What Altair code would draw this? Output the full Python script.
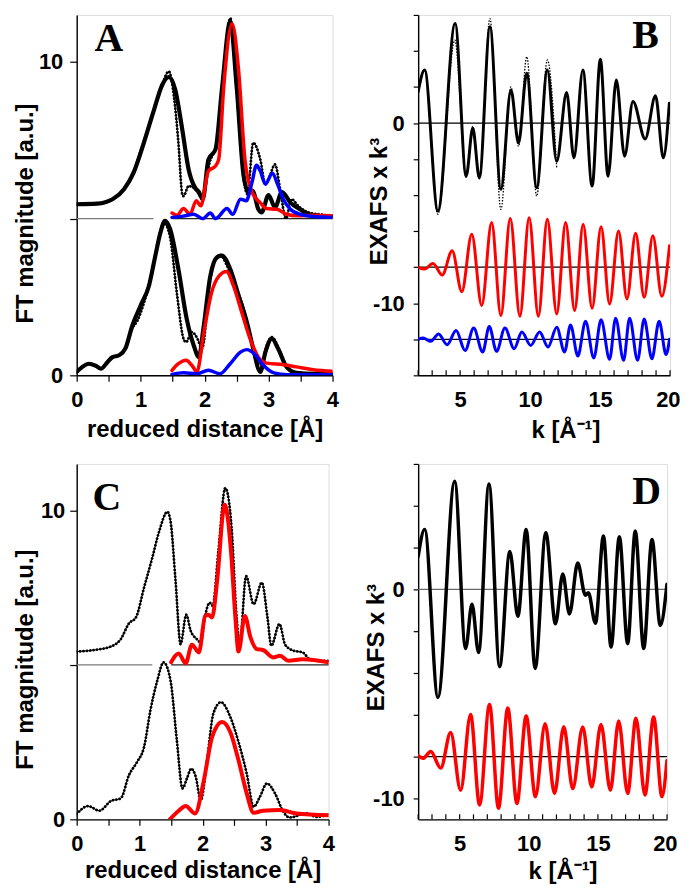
import altair as alt
import pandas as pd

# ---------------- Panel A : FT magnitude vs reduced distance ----------------
A_top_fit_r = [0, 0.32, 0.56, 0.74, 0.89, 1.05, 1.21, 1.34, 1.44, 1.54, 1.65, 1.75, 1.85, 1.91, 1.97, 2.06, 2.17, 2.27, 2.40, 2.50, 2.61, 2.69, 2.75, 2.84, 2.89, 3.00, 3.10, 3.21, 3.34, 3.49, 3.70, 4.00]
A_top_fit_v = [5.46, 5.48, 5.62, 5.94, 6.47, 7.42, 8.48, 9.28, 9.52, 9.12, 7.85, 6.57, 5.99, 5.85, 5.62, 6.89, 7.21, 9.12, 11.29, 9.23, 6.36, 5.83, 5.89, 5.30, 5.20, 5.75, 5.36, 5.85, 5.51, 5.30, 5.09, 5.07]
A_top_dat_r = [0, 0.32, 0.56, 0.74, 0.89, 1.05, 1.21, 1.34, 1.44, 1.52, 1.59, 1.65, 1.67, 1.75, 1.83, 1.91, 1.96, 2.08, 2.19, 2.29, 2.40, 2.50, 2.61, 2.67, 2.76, 2.87, 2.95, 3.02, 3.10, 3.18, 3.27, 3.36, 3.46, 3.62, 3.78, 4.0]
A_top_dat_v = [5.46, 5.48, 5.62, 5.96, 6.52, 7.47, 8.50, 9.30, 9.70, 8.90, 7.42, 5.78, 5.72, 6.04, 5.98, 5.78, 5.62, 6.80, 7.42, 9.20, 11.40, 9.12, 6.26, 5.78, 7.42, 6.89, 6.10, 6.37, 6.73, 5.95, 5.00, 5.62, 5.41, 5.20, 5.14, 5.09]
A_top_red_r = [1.49, 1.57, 1.67, 1.77, 1.87, 1.94, 2.06, 2.17, 2.22, 2.30, 2.43, 2.53, 2.63, 2.74, 2.87, 2.97, 3.13, 3.28, 3.44, 3.70, 4.0]
A_top_red_v = [5.18, 5.11, 5.32, 5.14, 5.57, 5.41, 6.52, 6.68, 6.89, 9.23, 11.22, 9.76, 6.89, 5.85, 5.51, 5.32, 5.30, 5.14, 5.09, 5.11, 5.09]
A_top_blu_r = [1.49, 1.67, 1.83, 1.97, 2.09, 2.17, 2.35, 2.44, 2.56, 2.65, 2.74, 2.81, 2.87, 2.95, 3.06, 3.14, 3.23, 3.34, 3.49, 3.75, 4.0]
A_top_blu_v = [5.04, 5.08, 5.14, 5.00, 5.18, 5.00, 5.32, 5.14, 5.62, 5.57, 6.15, 6.70, 6.52, 6.10, 6.45, 6.10, 5.62, 5.30, 5.14, 5.06, 5.04]

A_bot_fit_r = [0, 0.09, 0.19, 0.30, 0.38, 0.48, 0.56, 0.66, 0.76, 0.87, 1.0, 1.13, 1.23, 1.31, 1.38, 1.46, 1.59, 1.72, 1.83, 1.91, 1.98, 2.09, 2.19, 2.27, 2.40, 2.53, 2.66, 2.76, 2.87, 2.95, 3.05, 3.15, 3.28, 3.44, 3.70, 4.0]
A_bot_fit_v = [0.11, 0.27, 0.37, 0.30, 0.21, 0.42, 0.58, 0.64, 0.85, 1.59, 2.23, 2.86, 3.82, 4.56, 4.93, 4.67, 3.39, 1.80, 0.95, 0.58, 1.48, 3.18, 3.76, 3.82, 3.39, 2.55, 1.70, 0.85, 0.11, 0.74, 1.17, 0.85, 0.27, 0.08, 0.05, 0.05]
A_bot_dat_r = [0, 0.09, 0.19, 0.30, 0.38, 0.48, 0.56, 0.66, 0.76, 0.87, 0.95, 1.05, 1.13, 1.23, 1.31, 1.36, 1.46, 1.57, 1.67, 1.71, 1.80, 1.88, 1.96, 2.09, 2.24, 2.35, 2.48, 2.61, 2.71, 2.82, 2.89, 2.97, 3.05, 3.18, 3.31, 3.55, 4.0]
A_bot_dat_v = [0.11, 0.27, 0.37, 0.30, 0.21, 0.42, 0.58, 0.64, 0.85, 1.50, 1.75, 2.30, 2.90, 3.85, 4.60, 4.88, 4.40, 2.55, 1.17, 1.06, 1.38, 1.20, 0.85, 3.08, 3.85, 3.50, 2.86, 2.12, 1.27, 0.42, 0.35, 0.95, 1.22, 0.75, 0.20, 0.05, 0.03]
A_bot_red_r = [1.49, 1.59, 1.71, 1.80, 1.88, 1.98, 2.11, 2.23, 2.34, 2.45, 2.58, 2.71, 2.84, 2.97, 3.23, 3.44, 3.70, 4.0]
A_bot_red_v = [0.16, 0.37, 0.48, 0.32, 0.11, 1.27, 2.65, 3.18, 3.31, 2.86, 2.01, 1.17, 0.58, 0.39, 0.34, 0.27, 0.18, 0.13]
A_bot_blu_r = [1.49, 1.67, 1.87, 2.06, 2.24, 2.40, 2.56, 2.66, 2.79, 2.92, 3.08, 3.30, 4.0]
A_bot_blu_v = [0.03, 0.08, 0.05, 0.16, 0.05, 0.37, 0.74, 0.82, 0.66, 0.32, 0.08, 0.02, 0.02]

# ---------------- Panel B : EXAFS x k^3 vs k ----------------
B_fit_k = [2.0, 2.46, 3.41, 4.64, 5.43, 5.90, 6.37, 7.13, 7.91, 8.63, 9.17, 9.76, 10.47, 11.23, 11.90, 12.61, 13.13, 13.77, 14.43, 15.02, 15.57, 16.16, 16.75, 17.35, 18.22, 18.96, 19.52, 19.95]
B_fit_v = [1.75, 2.95, -4.88, 5.52, -2.95, -0.28, -3.04, 5.34, -3.68, 1.84, -1.10, 2.76, -3.59, 2.95, -2.12, 1.69, -1.93, 2.95, -3.50, 3.54, -2.95, 2.39, -1.84, 1.20, -0.88, 1.51, -1.93, 1.10]
B_dat_k = [2.0, 2.46, 3.41, 4.62, 5.43, 5.90, 6.37, 7.13, 7.91, 8.63, 9.17, 9.76, 10.47, 11.23, 11.90]
B_dat_v = [1.75, 2.95, -5.06, 4.60, -3.00, -0.18, -3.10, 5.80, -4.79, 2.00, -1.29, 3.68, -4.05, 3.50, -2.49]
B_red_k = [2.0, 2.46, 3.06, 3.72, 4.43, 5.12, 5.83, 6.54, 7.25, 7.91, 8.58, 9.27, 9.93, 10.59, 11.23, 11.90, 12.54, 13.18, 13.79, 14.43, 15.07, 15.68, 16.32, 16.92, 17.54, 18.15, 18.77, 19.41, 19.96]
B_red_v = [-8.01, -8.10, -7.79, -8.43, -7.09, -9.36, -6.17, -10.13, -5.52, -10.68, -5.29, -10.72, -5.25, -10.72, -5.34, -10.59, -5.52, -10.41, -5.62, -10.28, -5.75, -10.04, -5.99, -9.76, -6.11, -9.67, -6.26, -9.61, -6.81]
B_blu_k = [2.0, 2.35, 2.90, 3.46, 4.07, 4.71, 5.35, 5.97, 6.61, 7.08, 7.60, 8.20, 8.86, 9.41, 10.04, 10.68, 11.28, 11.90, 12.46, 12.89, 13.41, 13.96, 14.55, 15.07, 15.68, 16.11, 16.68, 17.11, 17.68, 18.15, 18.70, 19.22, 19.72, 19.96]
B_blu_v = [-12.0, -11.93, -12.11, -11.71, -12.30, -11.51, -12.62, -11.38, -12.71, -11.29, -12.67, -11.38, -12.52, -11.60, -12.34, -11.60, -12.43, -11.33, -12.71, -11.20, -12.93, -11.00, -13.04, -10.92, -13.11, -10.83, -13.17, -10.83, -13.17, -10.87, -13.08, -11.00, -12.85, -12.0]

# ---------------- Panel C ----------------
C_top_dat_r = [0, 0.28, 0.54, 0.70, 0.83, 0.94, 1.07, 1.20, 1.31, 1.44, 1.49, 1.57, 1.65, 1.74, 1.81, 1.91, 1.97, 2.04, 2.11, 2.16, 2.25, 2.36, 2.46, 2.54, 2.59, 2.69, 2.81, 2.94, 3.03, 3.09, 3.22, 3.31, 3.44, 3.59, 3.70, 3.81, 4.0]
C_top_dat_v = [5.43, 5.48, 5.59, 5.83, 6.34, 6.53, 7.50, 8.46, 9.32, 9.95, 9.65, 7.71, 5.67, 6.62, 6.10, 5.83, 5.72, 6.58, 7.01, 6.91, 8.68, 10.72, 9.43, 6.53, 5.67, 7.87, 6.96, 7.66, 6.53, 5.62, 6.32, 5.65, 5.46, 5.40, 5.18, 5.13, 5.13]
C_top_red_r = [1.50, 1.62, 1.73, 1.83, 1.94, 2.04, 2.09, 2.15, 2.23, 2.35, 2.45, 2.52, 2.57, 2.67, 2.76, 2.86, 2.96, 3.12, 3.23, 3.36, 3.59, 4.0]
C_top_red_v = [5.08, 5.37, 5.05, 5.65, 5.40, 6.58, 6.62, 6.53, 7.71, 10.18, 8.68, 6.53, 5.43, 6.58, 5.89, 5.51, 5.48, 5.24, 5.29, 5.13, 5.18, 5.08]
C_bot_dat_r = [0, 0.18, 0.36, 0.54, 0.70, 0.83, 0.96, 1.07, 1.17, 1.28, 1.38, 1.49, 1.59, 1.68, 1.75, 1.82, 1.89, 1.97, 2.07, 2.17, 2.29, 2.44, 2.57, 2.70, 2.81, 2.91, 3.02, 3.15, 3.28, 3.38, 3.65, 3.81, 4.0]
C_bot_dat_v = [0.17, 0.43, 0.28, 0.59, 0.68, 1.43, 1.86, 2.34, 3.52, 4.49, 5.08, 4.49, 2.56, 1.00, 1.32, 1.64, 1.38, 0.62, 1.91, 3.42, 3.79, 3.31, 2.50, 1.48, 0.41, 0.73, 1.16, 0.84, 0.25, 0.06, 0.19, 0.08, 0.17]
C_bot_red_r = [1.48, 1.62, 1.73, 1.88, 2.02, 2.15, 2.31, 2.44, 2.57, 2.70, 2.81, 2.96, 3.23, 3.49, 4.0]
C_bot_red_v = [0.0, 0.28, 0.43, 0.19, 1.27, 2.66, 3.15, 2.82, 1.91, 0.84, 0.21, 0.28, 0.30, 0.19, 0.13]

# ---------------- Panel D ----------------
D_fit_k = [2.0, 2.47, 3.43, 4.64, 5.43, 5.89, 6.37, 7.12, 7.89, 8.63, 9.21, 9.81, 10.46, 11.23, 11.93, 12.46, 12.94, 13.54, 14.09, 14.31, 14.82, 15.40, 15.95, 16.55, 17.15, 17.70, 18.31, 18.91, 19.51, 19.99]
D_fit_v = [1.57, 2.87, -5.17, 5.17, -2.83, -0.71, -3.02, 5.04, -3.70, 1.81, -1.29, 2.87, -3.78, 2.71, -1.65, 0.74, -1.18, 1.26, -0.28, -0.16, -1.62, 2.55, -2.76, 2.52, -2.60, 2.79, -2.83, 2.39, -1.73, 0.24]
D_red_k = [2.0, 2.36, 2.91, 3.63, 4.35, 5.07, 5.79, 6.44, 7.16, 7.81, 8.48, 9.14, 9.81, 10.48, 11.18, 11.86, 12.53, 13.18, 13.90, 14.55, 15.22, 15.90, 16.50, 17.15, 17.75, 18.40, 19.03, 19.63, 19.99]
D_red_v = [-7.95, -8.08, -7.75, -8.55, -6.85, -9.61, -5.98, -10.31, -5.51, -10.47, -5.67, -10.24, -6.06, -9.92, -6.43, -9.76, -6.57, -9.53, -6.58, -9.45, -6.46, -9.61, -6.30, -9.76, -6.17, -9.84, -6.11, -9.92, -8.19]

# tick / baseline values
ft_ticks_x = [0, 0.5, 1, 1.5, 2, 2.5, 3, 3.5, 4]
ft_ticks_y = [0, 5, 10]
k_ticks = list(range(2, 21))
B_ticks_y = list(range(-14, 7, 2))
D_ticks_y = list(range(-10, 7, 2))

FT_base_x = [0, 1.5]
FT_base_x2 = [1.2, 4]
FT_base_y = [5, 5]
FT_base_c = ["#7a7a7a", "#222222"]
B_base_y = [0, -8, -12]
D_base_y = [0, -8]
D_base_c = ["#6a6a6a", "#000000"]

SANS = "Liberation Sans"
SERIF = "Liberation Serif"


def frame(xs, ys):
    return pd.DataFrame({"x": xs, "y": ys})


def axis_common(**kw):
    base = dict(
        grid=False,
        labelFont=SANS, labelFontWeight="bold", labelFontSize=22, labelColor="black",
        titleFont=SANS, titleFontWeight="bold", titleFontSize=24, titleColor="black",
        domainColor="black", domainWidth=1.4, tickColor="black", tickWidth=1.2,
        labelAngle=0,
    )
    base.update(kw)
    return alt.Axis(**base)


def line(df, x, y, color="black", width=2, dash=None, cap="butt"):
    kw = dict(color=color, strokeWidth=width, interpolate="monotone", strokeCap=cap, clip=True)
    if dash is not None:
        kw["strokeDash"] = dash
    return alt.Chart(df).mark_line(**kw).encode(x=x, y=y)


def dotted_data(df, x, y):
    return [line(df, x, y, width=1.0),
            line(df, x, y, width=2.8, dash=[0.1, 3.3], cap="round")]


def letter(txt, px, py):
    return alt.Chart(pd.DataFrame({"t": [txt]})).mark_text(
        font=SERIF, fontWeight="bold", fontSize=40, align="left", baseline="alphabetic", color="black"
    ).encode(text="t:N", x=alt.value(px), y=alt.value(py))


def ft_panel(W, H, ytitleX, ytitleY, xtitleY, layers_fn, lab, lab_xy, ylabpad):
    x = alt.X("x:Q", scale=alt.Scale(domain=[0, 4], nice=False, zero=False),
              axis=axis_common(values=ft_ticks_x, tickSize=6, labelPadding=8, labelFlushOffset=6,
                               labelExpr="datum.value % 1 == 0 ? format(datum.value, 'd') : ''",
                               title="reduced distance [Å]", titleX=W / 2, titleY=xtitleY,
                               titleBaseline="alphabetic", titleAlign="center"))
    y = alt.Y("y:Q", scale=alt.Scale(domain=[0, 11.5], nice=False, zero=False),
              axis=axis_common(values=ft_ticks_y, tickSize=7, labelPadding=ylabpad,
                               labelExpr="datum.value == 5 ? '' : format(datum.value, 'd')",
                               title="FT magnitude [a.u.]", titleAngle=270, titleX=ytitleX, titleY=ytitleY,
                               titleBaseline="alphabetic", titleAlign="center"))
    base = pd.DataFrame({"x": FT_base_x, "x2": FT_base_x2, "y": FT_base_y, "c": FT_base_c})
    rules = alt.Chart(base).mark_rule(strokeWidth=1.2).encode(
        x=x, x2="x2:Q", y=y, color=alt.Color("c:N", scale=None))
    layers = [rules] + layers_fn(x, y) + [letter(lab, *lab_xy)]
    return alt.layer(*layers).properties(width=W, height=H)


def k_panel(W, H, ydom, yvals, base_y, base_c, ytitleX, ytitleY, xlabpad, xtitleX, xtitleY, layers_fn, lab, lab_xy):
    x = alt.X("x:Q", scale=alt.Scale(domain=[2, 20], nice=False, zero=False),
              axis=axis_common(values=[5, 10, 15, 20], ticks=False, tickSize=0, labelPadding=xlabpad,
                               labelFlushOffset=10,
                               title="k [Å⁻¹]", titleX=xtitleX, titleY=xtitleY,
                               titleBaseline="alphabetic", titleAlign="center"))
    y = alt.Y("y:Q", scale=alt.Scale(domain=ydom, nice=False, zero=False),
              axis=axis_common(values=yvals, tickSize=5, labelPadding=9,
                               labelExpr="datum.value == 0 ? '0' : (datum.value == -10 ? '-10' : '')",
                               title="EXAFS x k³", titleAngle=270, titleX=ytitleX, titleY=ytitleY,
                               titleBaseline="alphabetic", titleAlign="center"))
    base = pd.DataFrame({"y": base_y, "c": base_c})
    rules = alt.Chart(base).mark_rule(strokeWidth=1.2).encode(
        y=y, x=alt.value(0), x2=alt.value(W), color=alt.Color("c:N", scale=None))
    ticks = alt.Chart(pd.DataFrame({"x": k_ticks})).mark_rule(color="black", strokeWidth=1.2).encode(
        x=x, y=alt.value(H - 5), y2=alt.value(H))
    layers = [rules, ticks] + layers_fn(x, y) + [letter(lab, *lab_xy)]
    return alt.layer(*layers).properties(width=W, height=H)


def A_layers(x, y):
    L = []
    L.append(line(frame(A_top_fit_r, A_top_fit_v), x, y, width=4.2, cap="round"))
    L += dotted_data(frame(A_top_dat_r, A_top_dat_v), x, y)
    L.append(line(frame(A_top_red_r, A_top_red_v), x, y, color="#ff0000", width=3.5, cap="round"))
    L.append(line(frame(A_top_blu_r, A_top_blu_v), x, y, color="#0000ff", width=3.5, cap="round"))
    L.append(line(frame(A_bot_fit_r, A_bot_fit_v), x, y, width=4.2, cap="round"))
    L += dotted_data(frame(A_bot_dat_r, A_bot_dat_v), x, y)
    L.append(line(frame(A_bot_red_r, A_bot_red_v), x, y, color="#ff0000", width=3.5, cap="round"))
    L.append(line(frame(A_bot_blu_r, A_bot_blu_v), x, y, color="#0000ff", width=3.5, cap="round"))
    return L


def C_layers(x, y):
    L = []
    L += dotted_data(frame(C_top_dat_r, C_top_dat_v), x, y)
    L.append(line(frame(C_top_red_r, C_top_red_v), x, y, color="#ff0000", width=4, cap="round"))
    L += dotted_data(frame(C_bot_dat_r, C_bot_dat_v), x, y)
    L.append(line(frame(C_bot_red_r, C_bot_red_v), x, y, color="#ff0000", width=4, cap="round"))
    return L


def B_layers(x, y):
    return [
        line(frame(B_fit_k, B_fit_v), x, y, width=3, cap="round"),
        line(frame(B_dat_k, B_dat_v), x, y, width=1.3, dash=[1.5, 1.5]),
        line(frame(B_red_k, B_red_v), x, y, color="#ff0000", width=3, cap="round"),
        line(frame(B_blu_k, B_blu_v), x, y, color="#0000ff", width=3, cap="round"),
    ]


def D_layers(x, y):
    return [
        line(frame(D_fit_k, D_fit_v), x, y, width=3.5, cap="round"),
        line(frame(D_red_k, D_red_v), x, y, color="#ff0000", width=3.5, cap="round"),
    ]


A = ft_panel(257, 362, -44, 199, 61, A_layers, "A", (18, 36), 7)
C = ft_panel(253, 357, -44, 196, 58, C_layers, "C", (16, 46), 5)
B = k_panel(253, 362, [-14, 6], B_ticks_y, B_base_y, ["#000000"] * 3, -32, 187, 14, 148, 62, B_layers, "B", (215, 33))
D = k_panel(250, 357, [-11, 6], D_ticks_y, D_base_y, D_base_c, -35, 184, 14, 145, 59, D_layers, "D", (215, 40))

chart = alt.concat(A, B, C, D, columns=2, spacing={"row": 89, "column": 86}, bounds="flush").properties(
    padding={"left": 5, "top": 3, "right": 0, "bottom": 2}
).configure_view(stroke=None).configure(background="white")

chart.save("out.html", embed_options={"renderer": "svg", "actions": False})
